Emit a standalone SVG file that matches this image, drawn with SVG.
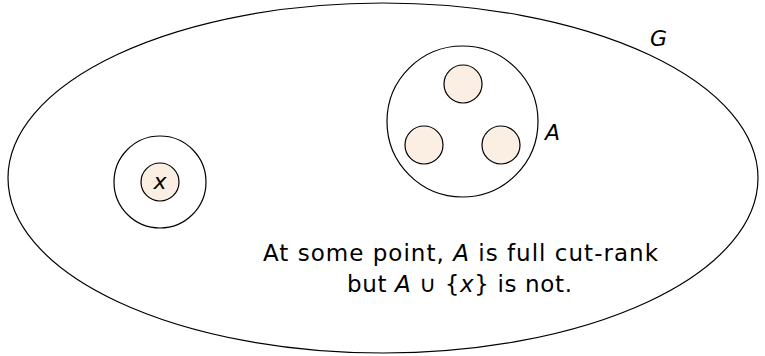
<svg xmlns="http://www.w3.org/2000/svg" width="765" height="356" viewBox="0 0 765 356">
<style>
.o{fill:none;stroke:#000;stroke-width:1.2}
.w{fill:#fff;stroke:#000;stroke-width:1.2}
.f{fill:#FBEFE3;stroke:#000;stroke-width:1.2}
text{font-family:"DejaVu Sans","Liberation Sans",sans-serif;font-size:22px;fill:#000}
.c{font-size:23px}
.i{font-style:italic}
</style>
<rect width="765" height="356" fill="#fff"/>
<g id="G">
<ellipse class="o" cx="383" cy="178" rx="375" ry="175"/>
<text x="650" y="46" class="i">G</text>
</g>
<g id="X">
<circle class="w" cx="160" cy="182" r="46"/>
<circle class="f" cx="160" cy="182" r="19"/>
<text x="160" y="189" class="i" text-anchor="middle" font-size="20">x</text>
</g>
<g id="A">
<circle class="w" cx="462.5" cy="121.5" r="75.5"/>
<circle class="f" cx="463" cy="84" r="19"/>
<circle class="f" cx="424" cy="145" r="19"/>
<circle class="f" cx="501" cy="145" r="19"/>
<text x="545" y="140" class="i">A</text>
</g>
<g id="caption">
<text class="c" x="263" y="261" textLength="395" lengthAdjust="spacing">At some point, <tspan class="i">A</tspan> is full cut-rank</text>
<text class="c" x="347" y="292" textLength="225" lengthAdjust="spacing">but <tspan class="i">A</tspan> ∪ {<tspan class="i">x</tspan>} is not.</text>
</g>
</svg>
